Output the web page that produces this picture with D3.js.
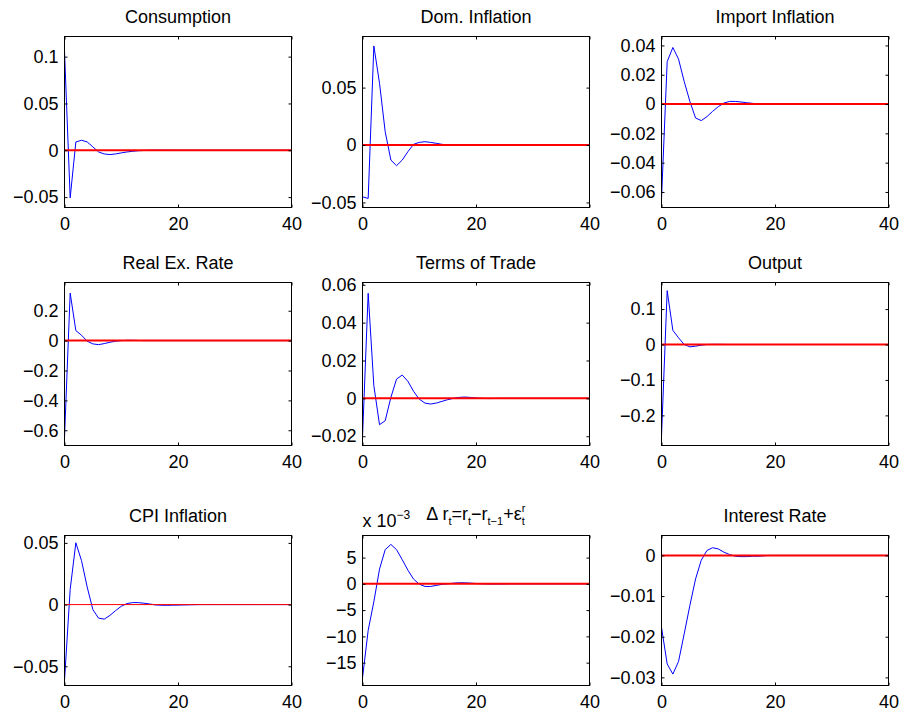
<!DOCTYPE html>
<html>
<head>
<meta charset="utf-8">
<script src="https://cdn.jsdelivr.net/npm/d3@7/dist/d3.min.js"></script>
<style>
  html, body { margin: 0; padding: 0; background: #ffffff; }
  svg text { font-family: "Liberation Sans", Arial, Helvetica, sans-serif; fill: #000; }
</style>
</head>
<body>
<svg id="fig" width="903" height="715"></svg>
<script>
// Impulse responses over horizons 0..40 (one value per period)
const consumption = [
  0.106, -0.0508, 0.0089, 0.0107, 0.0089, 0.0036, -0.0018, -0.0039, -0.0046, -0.0039,
  -0.0028, -0.0018, -0.0011, -0.0005, -0.0002, 0, 0.0001, 0.0001, 0.0001, 0,
  0, 0, 0, 0, 0, 0, 0, 0, 0, 0,
  0, 0, 0, 0, 0, 0, 0, 0, 0, 0,
  0
];
const domInflation = [
  -0.0451, -0.0465, 0.0863, 0.0538, 0.0116, -0.0131, -0.018, -0.0131, -0.0058, 0.0006,
  0.0023, 0.0029, 0.0023, 0.0015, 0.0006, 0.0001, -0.0002, -0.0002, -0.0001, 0,
  0, 0, 0, 0, 0, 0, 0, 0, 0, 0,
  0, 0, 0, 0, 0, 0, 0, 0, 0, 0,
  0
];
const importInflation = [
  -0.0649, 0.0289, 0.0386, 0.0307, 0.0154, 0.0018, -0.0095, -0.0113, -0.0086, -0.005,
  -0.0018, 0.0007, 0.0018, 0.0018, 0.0014, 0.0009, 0.0005, 0.0001, -0.0001, -0.0001,
  0, 0, 0, 0, 0, 0, 0, 0, 0, 0,
  0, 0, 0, 0, 0, 0, 0, 0, 0, 0,
  0
];
const realExRate = [
  -0.65, 0.318, 0.067, 0.036, -0.004, -0.022, -0.027, -0.02, -0.011, -0.004,
  0, 0.002, 0.002, 0.001, 0, 0, 0, 0, 0, 0,
  0, 0, 0, 0, 0, 0, 0, 0, 0, 0,
  0, 0, 0, 0, 0, 0, 0, 0, 0, 0,
  0
];
const termsOfTrade = [
  -0.0206, 0.0555, 0.0067, -0.0139, -0.0118, 0.0005, 0.0102, 0.0123, 0.009, 0.0037,
  -0.0004, -0.0025, -0.003, -0.0025, -0.0016, -0.0007, 0, 0.0005, 0.0007, 0.0005,
  0.0002, 0, -0.0001, -0.0001, 0, 0, 0, 0, 0, 0,
  0, 0, 0, 0, 0, 0, 0, 0, 0, 0,
  0
];
const output = [
  -0.259, 0.152, 0.04, 0.019, 0, -0.0066, -0.0047, -0.002, 0, 0.0005,
  0.0004, 0.0002, 0, 0, 0, 0, 0, 0, 0, 0,
  0, 0, 0, 0, 0, 0, 0, 0, 0, 0,
  0, 0, 0, 0, 0, 0, 0, 0, 0, 0,
  0
];
const cpiInflation = [
  -0.0616, 0.0123, 0.0501, 0.0356, 0.0142, -0.0041, -0.011, -0.0118, -0.0088, -0.0049,
  -0.0014, 0.0008, 0.0016, 0.0016, 0.0011, 0.0005, -0.0003, -0.0005, -0.0006, -0.0005,
  -0.0004, -0.0003, -0.0002, -0.0001, 0, 0, 0, 0, 0, 0,
  0, 0, 0, 0, 0, 0, 0, 0, 0, 0,
  0
];
// change in the interest rate, in units of 10^-3
const rateChange = [
  -17.9, -8.85, -3.4, 2.8, 6.5, 7.5, 6.5, 4.6, 2.6, 0.9,
  -0.06, -0.5, -0.5, -0.3, -0.1, 0, 0.13, 0.2, 0.2, 0.13,
  0.06, 0, -0.03, -0.04, -0.03, -0.02, 0, 0, 0, 0,
  0, 0, 0, 0, 0, 0, 0, 0, 0, 0,
  0
];
const interestRate = [
  -0.0177, -0.0267, -0.0292, -0.0261, -0.0193, -0.0123, -0.0058, -0.0012, 0.0012, 0.0019,
  0.0016, 0.0008, 0.0002, -0.0002, -0.0003, -0.0003, -0.0002, -0.0002, -0.0001, 0,
  0, 0, 0, 0, 0, 0, 0, 0, 0, 0,
  0, 0, 0, 0, 0, 0, 0, 0, 0, 0,
  0
];

// Panel titles and tick values
const titles = ["Consumption", "Dom. Inflation", "Import Inflation",
                "Real Ex. Rate", "Terms of Trade", "Output",
                "CPI Inflation", "", "Interest Rate"];
const xTicks = [0, 20, 40];
const consumptionTicks = [-0.05, 0, 0.05, 0.1];
const domInflationTicks = [-0.05, 0, 0.05];
const importInflationTicks = [-0.06, -0.04, -0.02, 0, 0.02, 0.04];
const realExRateTicks = [-0.6, -0.4, -0.2, 0, 0.2];
const termsOfTradeTicks = [-0.02, 0, 0.02, 0.04, 0.06];
const outputTicks = [-0.2, -0.1, 0, 0.1];
const cpiInflationTicks = [-0.05, 0, 0.05];
const rateChangeTicks = [-15, -10, -5, 0, 5];
const interestRateTicks = [-0.03, -0.02, -0.01, 0];

// Axis limits
const consumptionLim = [-0.0611, 0.1215];
const domInflationLim = [-0.0544, 0.0945];
const importInflationLim = [-0.0706, 0.0461];
const realExRateLim = [-0.702, 0.389];
const termsOfTradeLim = [-0.0249, 0.0612];
const outputLim = [-0.285, 0.175];
const cpiInflationLim = [-0.0656, 0.056];
const rateChangeLim = [-19.35, 9.2];
const interestRateLim = [-0.032, 0.0049];

const series = [consumption, domInflation, importInflation, realExRate, termsOfTrade,
                output, cpiInflation, rateChange, interestRate];
const ticks = [consumptionTicks, domInflationTicks, importInflationTicks, realExRateTicks,
               termsOfTradeTicks, outputTicks, cpiInflationTicks, rateChangeTicks, interestRateTicks];
const limits = [consumptionLim, domInflationLim, importInflationLim, realExRateLim,
                termsOfTradeLim, outputLim, cpiInflationLim, rateChangeLim, interestRateLim];

// Layout
const colLeft = [64.5, 362.5, 661.5];
const colWidth = 227;
const rowTop = [36.5, 282.5, 535.5];
const rowHeight = [171, 163, 150];
const tickLen = 3;
const fontSize = 18;
const fontStack = '"Liberation Sans", Arial, Helvetica, sans-serif';

const svg = d3.select("#fig");
const fmt = v => (v < 0 ? "\u2212" : "") + String(Math.abs(v));

series.forEach((vals, i) => {
  const col = i % 3, row = Math.floor(i / 3);
  const left = colLeft[col], top = rowTop[row];
  const w = colWidth, h = rowHeight[row];
  const g = svg.append("g").attr("transform", `translate(${left},${top})`);

  const x = d3.scaleLinear().domain([0, 40]).range([0, w]);
  const y = d3.scaleLinear().domain(limits[i]).range([h, 0]);

  // response line
  const line = d3.line().x((d, k) => x(k)).y(d => y(d));
  g.append("path").datum(vals)
    .attr("d", line)
    .attr("fill", "none")
    .attr("stroke", "#0000ff")
    .attr("stroke-width", 1)
    .attr("stroke-linejoin", "miter");

  // zero reference line
  g.append("line")
    .attr("x1", x(0)).attr("x2", x(40))
    .attr("y1", y(0)).attr("y2", y(0))
    .attr("stroke", "#ff0000")
    .attr("stroke-width", i === 6 ? 1 : 2);

  // axes with inward ticks on all four sides
  const styleAxis = sel => {
    sel.attr("font-size", fontSize).attr("font-family", fontStack);
    sel.select(".domain").remove();
    sel.selectAll(".tick line").attr("stroke", "#000");
    sel.selectAll(".tick text").attr("fill", "#000");
  };
  g.append("g").attr("transform", `translate(0,${h})`)
    .call(d3.axisBottom(x).tickValues(xTicks).tickSizeInner(-tickLen).tickSizeOuter(0)
      .tickPadding(10).tickFormat(fmt))
    .call(styleAxis);
  g.append("g")
    .call(d3.axisTop(x).tickValues(xTicks).tickSizeInner(-tickLen).tickSizeOuter(0).tickFormat(""))
    .call(styleAxis);
  g.append("g")
    .call(d3.axisLeft(y).tickValues(ticks[i]).tickSizeInner(-tickLen).tickSizeOuter(0)
      .tickPadding(6).tickFormat(fmt))
    .call(styleAxis);
  g.append("g").attr("transform", `translate(${w},0)`)
    .call(d3.axisRight(y).tickValues(ticks[i]).tickSizeInner(-tickLen).tickSizeOuter(0).tickFormat(""))
    .call(styleAxis);

  // frame
  g.append("rect")
    .attr("x", 0).attr("y", 0).attr("width", w).attr("height", h)
    .attr("fill", "none").attr("stroke", "#000").attr("stroke-width", 1);

  // title
  if (titles[i]) {
    g.append("text")
      .attr("x", w / 2).attr("y", -14)
      .attr("text-anchor", "middle")
      .attr("font-size", fontSize)
      .text(titles[i]);
  } else {
    const t = g.append("text").attr("y", -16).attr("font-size", fontSize);
    const sub = 11, dropSub = 5, liftSup = 13;
    t.append("tspan").text("\u0394 r");
    t.append("tspan").attr("font-size", sub).attr("dy", dropSub).text("t");
    t.append("tspan").attr("dy", -dropSub).text("=r");
    t.append("tspan").attr("font-size", sub).attr("dy", dropSub).text("t");
    t.append("tspan").attr("dy", -dropSub).text("\u2212r");
    t.append("tspan").attr("font-size", sub).attr("dy", dropSub).text("t\u22121");
    t.append("tspan").attr("dy", -dropSub).text("+\u03b5");
    t.append("tspan").attr("font-size", sub).attr("dy", dropSub).text("t");
    t.append("tspan").attr("font-size", sub).attr("dx", -3.1).attr("dy", -liftSup).text("r");
    const bb = t.node().getBBox();
    t.attr("x", w / 2 - bb.width / 2);

    // exponent multiplier for the y axis
    const m = g.append("text").attr("x", 0).attr("y", -9).attr("font-size", fontSize);
    m.append("tspan").text("x 10");
    m.append("tspan").attr("font-size", 12).attr("dy", -8).text("\u22123");
  }
});
</script>
</body>
</html>
